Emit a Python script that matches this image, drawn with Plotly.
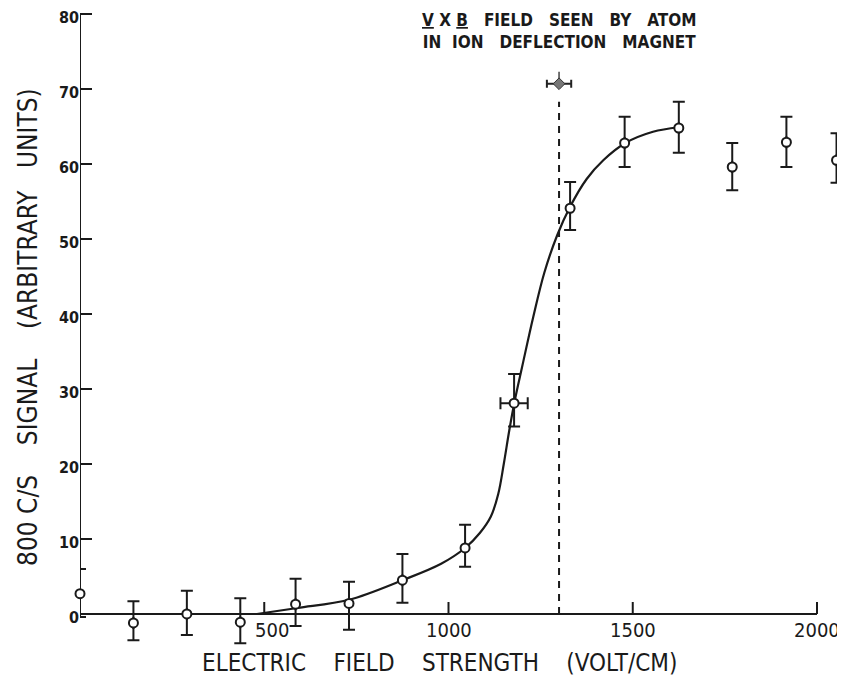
import plotly.graph_objects as go

# ---- data ----
field = [0, 145, 290, 435, 585, 730, 875, 1045, 1178, 1330, 1478, 1625, 1770, 1917, 2053]
signal = [2.7, -1.2, 0.0, -1.1, 1.3, 1.4, 4.5, 8.8, 28.1, 54.1, 62.8, 64.8, 59.6, 62.9, 60.5]
err_plus = [3.3, 2.9, 3.1, 3.2, 3.4, 2.9, 3.5, 3.1, 3.9, 3.5, 3.5, 3.5, 3.2, 3.4, 3.6]
err_minus = [3.1, 2.3, 2.8, 2.8, 2.9, 3.5, 3.0, 2.5, 3.1, 2.9, 3.2, 3.3, 3.1, 3.3, 3.0]
xerr = [0, 0, 0, 0, 0, 0, 0, 0, 37, 0, 0, 0, 0, 0, 0]

curve_x = [480, 590, 730, 875, 980, 1045, 1085, 1115, 1135, 1150, 1165, 1180, 1200,
           1230, 1260, 1295, 1330, 1375, 1420, 1480, 1555, 1625]
curve_y = [0.0, 0.8, 1.9, 4.5, 6.7, 8.8, 10.8, 13.0, 16.0, 20.0, 24.5, 28.5, 33.0,
           39.6, 45.5, 50.5, 54.3, 58.0, 60.5, 62.8, 64.3, 64.9]

vxb_field = [1300]
vxb_signal = [70.7]
vxb_xerr = [33]
vxb_line_top = 68.3

x_ticks = [500, 1000, 1500, 2000]
x_tick_labels = ["500", "1000", "1500", "2000"]
y_ticks = [0, 10, 20, 30, 40, 50, 60, 70, 80]

X_MAX_AXIS = 2000
Y_MAX_AXIS = 80

fig = go.Figure()

# fitted curve
fig.add_trace(go.Scatter(
    x=curve_x, y=curve_y, mode="lines",
    line=dict(color="#1a1a1a", width=2.2, shape="spline", smoothing=1.0),
    hoverinfo="skip", showlegend=False))

# V x B marker
fig.add_trace(go.Scatter(
    x=vxb_field, y=vxb_signal, mode="markers",
    marker=dict(symbol="diamond", size=9, color="#777777", line=dict(color="#333", width=1)),
    error_x=dict(type="data", array=vxb_xerr, color="#222", thickness=2, width=4),
    error_y=dict(type="data", array=[1.6], arrayminus=[0], color="#444", thickness=1.5, width=0),
    showlegend=False))

# data points
fig.add_trace(go.Scatter(
    x=field, y=signal, mode="markers",
    marker=dict(symbol="circle", size=9, color="white", line=dict(color="#1a1a1a", width=2)),
    error_y=dict(type="data", symmetric=False, array=err_plus, arrayminus=err_minus,
                 color="#1a1a1a", thickness=2, width=6),
    error_x=dict(type="data", array=xerr, color="#1a1a1a", thickness=2, width=6),
    cliponaxis=False, showlegend=False))

# axis lines
fig.add_shape(type="line", xref="x", yref="y", x0=0, x1=X_MAX_AXIS, y0=0, y1=0,
              line=dict(color="#1a1a1a", width=2), layer="below")
fig.add_shape(type="line", xref="x", yref="y", x0=0, x1=0, y0=-0.3, y1=Y_MAX_AXIS,
              line=dict(color="#1a1a1a", width=2), layer="below")

# x ticks (pointing up from axis) and labels
for xv, lab in zip(x_ticks, x_tick_labels):
    fig.add_shape(type="line", xref="x", yref="y", x0=xv, x1=xv, y0=0, y1=1.6,
                  line=dict(color="#1a1a1a", width=2))
    fig.add_annotation(x=xv, y=0, xref="x", yref="y", text=lab, showarrow=False,
                       yanchor="top", yshift=-2, xshift=8 if xv == 500 else 0,
                       font=dict(family="Liberation Sans Narrow, DejaVu Sans Condensed", size=20, color="#1a1a1a"))

# dashed VxB line
fig.add_shape(type="line", xref="x", yref="y", x0=vxb_field[0], x1=vxb_field[0],
              y0=0, y1=vxb_line_top, line=dict(color="#1a1a1a", width=2, dash="7px,6px"))

# header annotation
fig.add_annotation(
    x=vxb_field[0], y=1.0, xref="x", yref="paper", yanchor="top", yshift=0,
    showarrow=False, align="center",
    text="<u>V</u>\u00a0X\u00a0<u>B</u>\u00a0\u00a0\u00a0FIELD\u00a0\u00a0\u00a0SEEN\u00a0\u00a0\u00a0BY\u00a0\u00a0\u00a0ATOM<br>"
         "IN\u00a0\u00a0ION\u00a0\u00a0\u00a0DEFLECTION\u00a0\u00a0\u00a0MAGNET",
    font=dict(family="DejaVu Sans Condensed", size=17, color="#1a1a1a", weight="bold"))

# axis titles
fig.add_annotation(
    x=0.47, y=0, xref="paper", yref="paper", xanchor="center", yanchor="top",
    yshift=-1, showarrow=False,
    text="ELECTRIC\u00a0\u00a0\u00a0\u00a0FIELD\u00a0\u00a0\u00a0\u00a0STRENGTH\u00a0\u00a0\u00a0\u00a0(VOLT/CM)",
    font=dict(family="Liberation Sans Narrow, DejaVu Sans Condensed", size=24, color="#1a1a1a"))
fig.add_annotation(
    x=0, y=0.5, xref="paper", yref="paper",
    showarrow=False, textangle=-90, xanchor="center", yanchor="middle",
    xshift=-52,
    text="800\u00a0C/S\u00a0\u00a0\u00a0\u00a0SIGNAL\u00a0\u00a0\u00a0\u00a0(ARBITRARY\u00a0\u00a0\u00a0UNITS)",
    font=dict(family="Liberation Sans Narrow, DejaVu Sans Condensed", size=26, color="#1a1a1a"))

# page has an 8px body margin, so the figure is 837x678 placed at (8, 8)
fig.update_layout(
    template="none",
    width=837, height=678,
    margin=dict(l=72, r=0, t=0, b=40, autoexpand=False),
    paper_bgcolor="white", plot_bgcolor="white",
    xaxis=dict(range=[0, 2076], showgrid=False, zeroline=False, showline=False,
               showticklabels=False, ticks="", automargin=False),
    yaxis=dict(range=[-4.27, 80.8], showgrid=False, zeroline=False, showline=False,
               automargin=False, ticklabeloverflow="allow", ticklabelshift=3,
               tickvals=y_ticks, ticks="inside", ticklen=12, tickwidth=2, tickcolor="#1a1a1a",
               tickfont=dict(family="DejaVu Sans Condensed", size=16, color="#1a1a1a", weight="bold")),
)

fig.write_html("out.html")
